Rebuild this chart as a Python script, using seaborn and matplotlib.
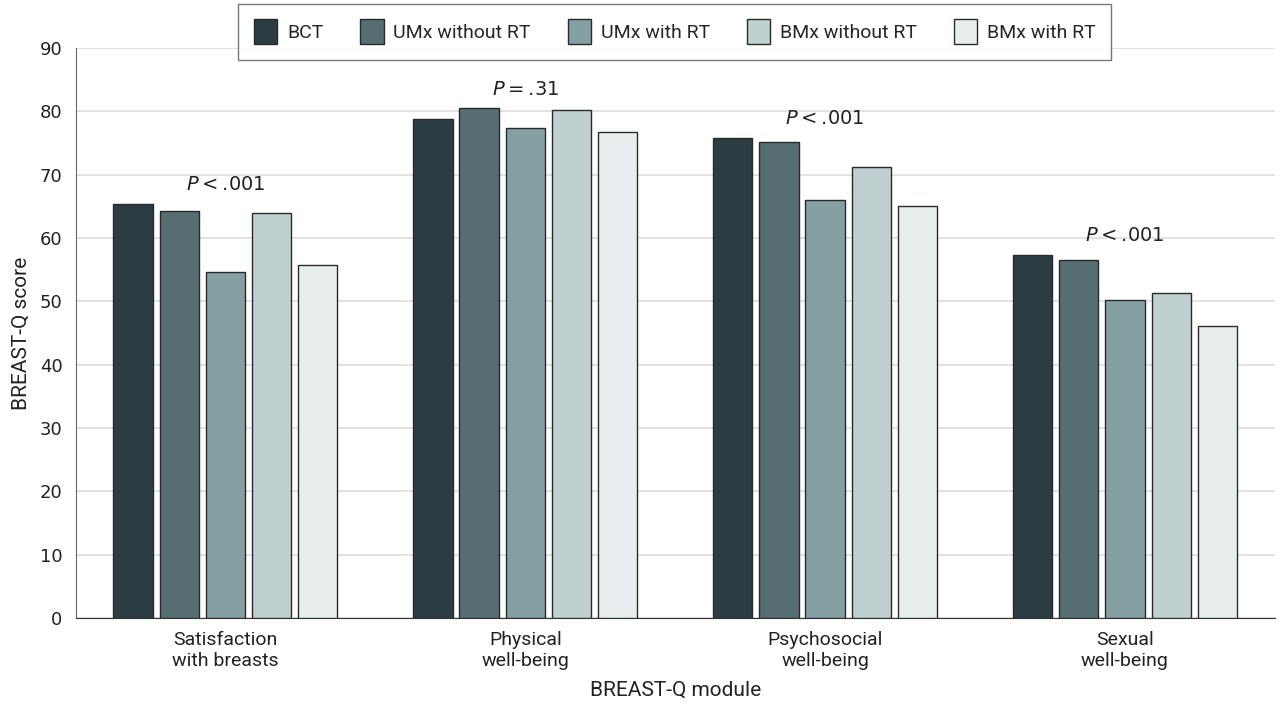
import pandas as pd
import seaborn as sns
import matplotlib.pyplot as plt

modules = ['Satisfaction\nwith breasts', 'Physical\nwell-being',
           'Psychosocial\nwell-being', 'Sexual\nwell-being']
groups = ['BCT', 'UMx without RT', 'UMx with RT', 'BMx without RT', 'BMx with RT']
bct = [65.4, 78.8, 75.8, 57.3]
umx_no_rt = [64.3, 80.5, 75.2, 56.5]
umx_rt = [54.6, 77.4, 66.0, 50.2]
bmx_no_rt = [64.0, 80.2, 71.2, 51.3]
bmx_rt = [55.7, 76.7, 65.1, 46.1]
p_labels = ['<\u2009.001', '=\u2009.31', '<\u2009.001', '<\u2009.001']

colors = ['#2b3d42', '#566e71', '#84a0a3', '#c0cfcf', '#e8eeee']
narrow = ['Liberation Sans Narrow', 'Roboto', 'DejaVu Sans']

rows = []
for g, vals in zip(groups, [bct, umx_no_rt, umx_rt, bmx_no_rt, bmx_rt]):
    for m, v in zip(modules, vals):
        rows.append({'module': m, 'group': g, 'score': v})
df = pd.DataFrame(rows)

sns.set_style('white')
plt.rcParams['font.family'] = ['DejaVu Sans']
fig = plt.figure(figsize=(12.8, 7.14), dpi=100)
ax = fig.add_axes([0.059, 0.1345, 0.937, 0.7985])

sns.barplot(data=df, x='module', y='score', hue='group', order=modules,
            hue_order=groups, palette=colors, saturation=1, width=0.77, gap=0.15,
            edgecolor='#2a2a2a', linewidth=1.0, ax=ax, zorder=3)

ax.set_ylim(0, 90)
ax.set_xlim(-0.5, 3.5)
ax.set_yticks(range(0, 91, 10))
ax.yaxis.grid(True, color='#dddddd', linewidth=1.2, zorder=0)
ax.set_axisbelow(True)
for s in ['top', 'right']:
    ax.spines[s].set_visible(False)
ax.spines['left'].set_color('#666666')
ax.spines['bottom'].set_color('#333333')
ax.tick_params(axis='y', length=6, color='#555555', labelsize=13, labelcolor='#222222')
ax.tick_params(axis='x', length=6, color='#333333')
ax.set_xticks(range(len(modules)))
ax.set_xticklabels(modules, fontsize=14, family=narrow, color='#222222')
ax.set_xlabel('BREAST-Q module', fontsize=15, family=narrow, color='#222222', labelpad=8)
ax.set_ylabel('BREAST-Q score', fontsize=15, family=narrow, color='#222222', labelpad=6)

# P value labels above each group
all_vals = [bct, umx_no_rt, umx_rt, bmx_no_rt, bmx_rt]
for i, lab in enumerate(p_labels):
    top = max(v[i] for v in all_vals)
    ax.text(i, top + 1.5, '$P$\u2009' + lab, ha='center', va='bottom',
            fontsize=14, color='#222222')

leg = ax.legend(loc='upper center', bbox_to_anchor=(0.4995, 1.077), ncol=5,
                frameon=True, fancybox=False, edgecolor='#555555',
                prop={'family': narrow, 'size': 14}, handlelength=1.2,
                handleheight=1.6, columnspacing=1.9, borderpad=0.8,
                handletextpad=0.5, borderaxespad=0)
leg.get_frame().set_linewidth(1.0)

fig.savefig('out.png', dpi=100, facecolor='white')
